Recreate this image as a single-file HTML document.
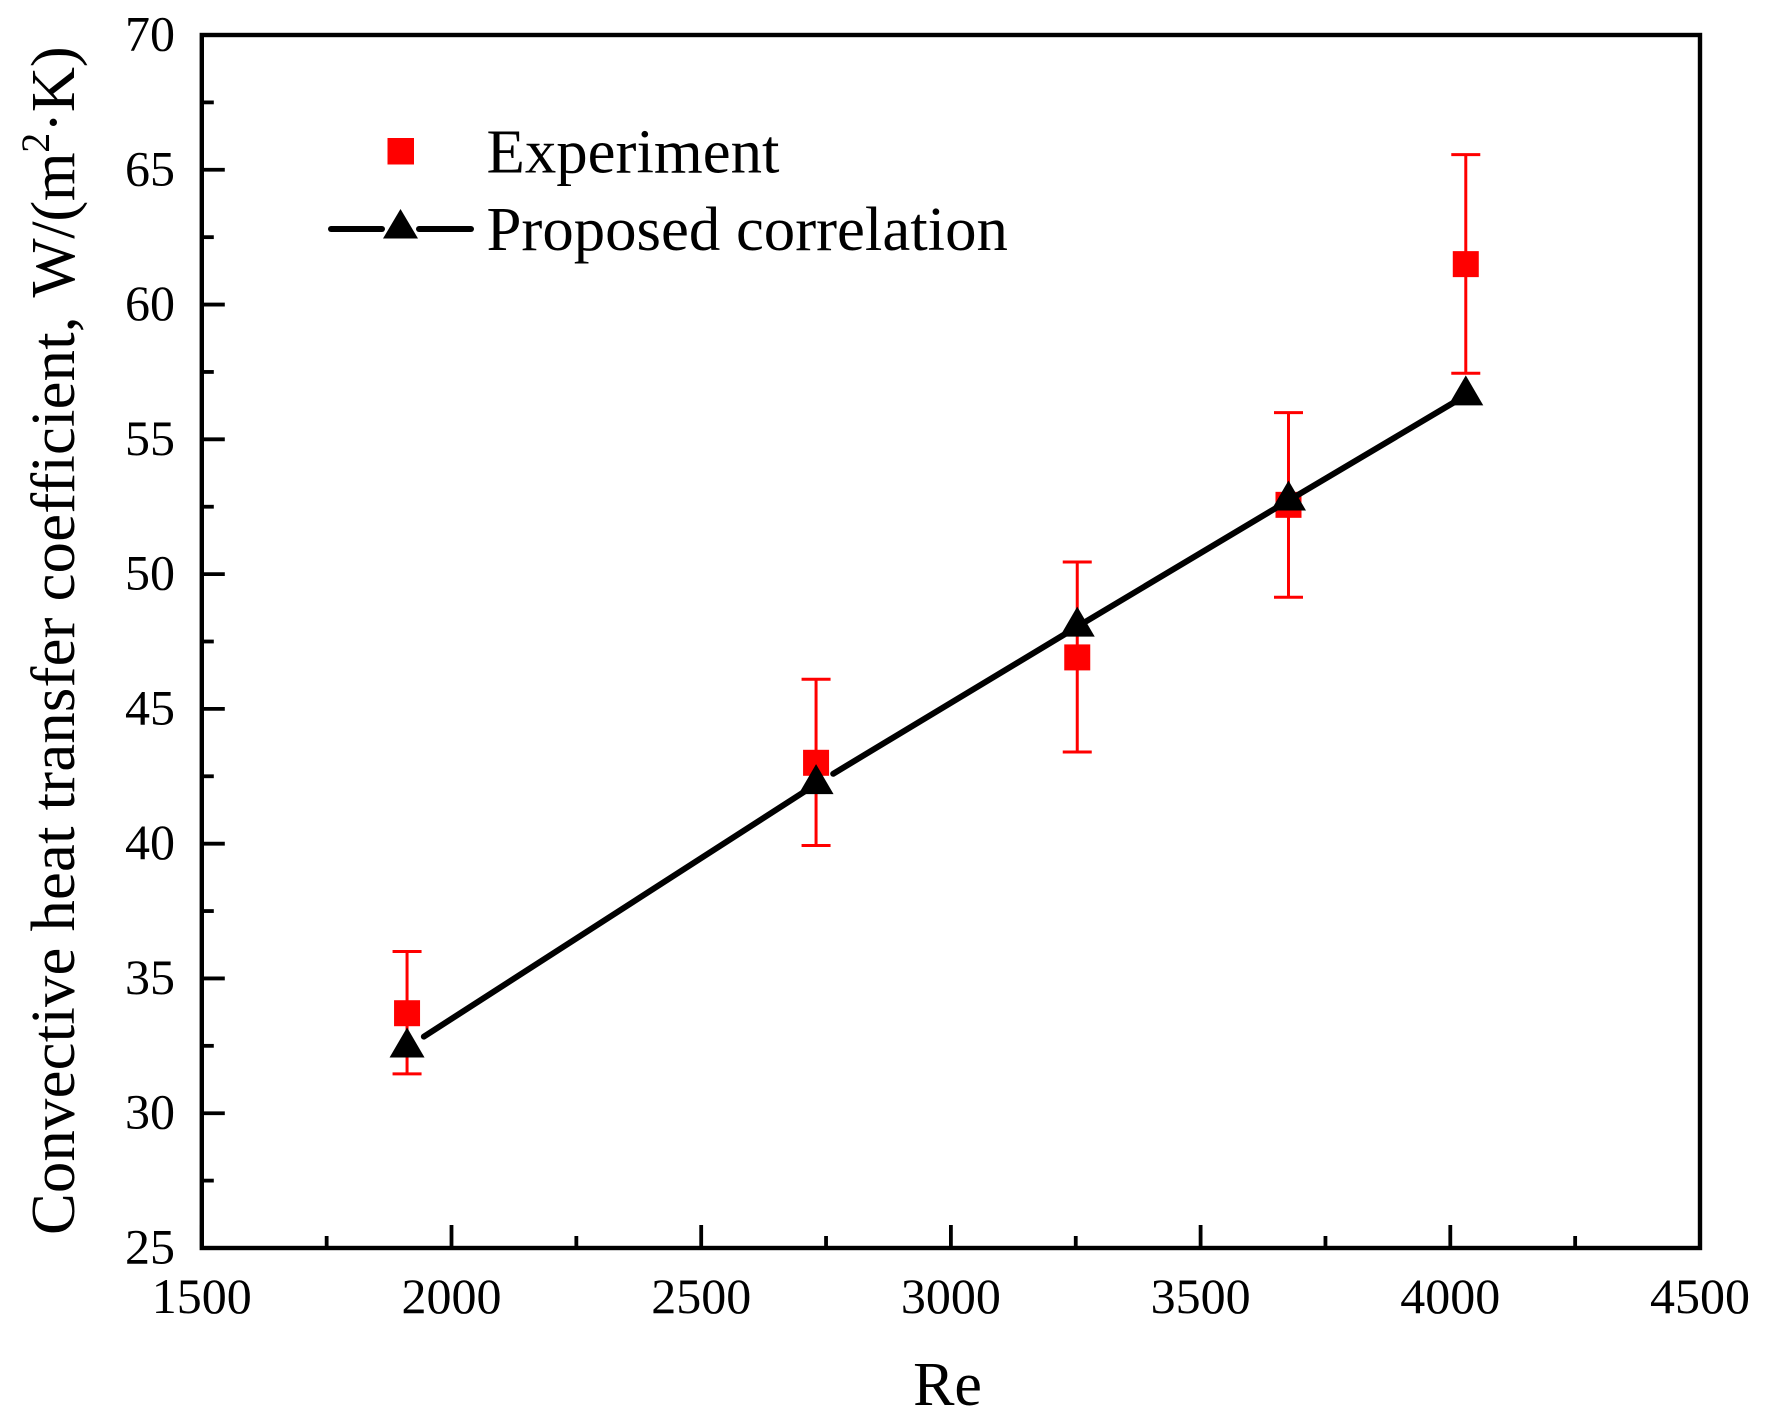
<!DOCTYPE html>
<html lang="en">
<head>
<meta charset="utf-8">
<title>Convective heat transfer coefficient vs Re</title>
<style>
html,body{margin:0;padding:0;background:#fff;}
svg{display:block;}
text{font-family:"Liberation Serif",serif;fill:#000;white-space:pre;}
</style>
</head>
<body>
<svg id="chart" xmlns="http://www.w3.org/2000/svg" width="1768" height="1427" viewBox="0 0 1768 1427">
  <rect x="0" y="0" width="1768" height="1427" fill="#fff"/>
  <g id="marks"></g>
  <g id="axes"></g>
  <text x="947.5" y="1405" font-size="62" text-anchor="middle">Re</text>
  <text transform="translate(74,1235) rotate(-90)" font-size="62.6"><tspan letter-spacing="0.25">Convective heat transfer coefficient,</tspan><tspan dx="4.5" letter-spacing="-0.3"> W/(m</tspan><tspan font-size="40" dy="-25">2</tspan><tspan dy="25" letter-spacing="-0.3">·K)</tspan></text>
  <g>
    <rect x="387.5" y="138" width="26.5" height="26.5" fill="#ff0000"/>
    <text x="486.5" y="172.7" font-size="62.8">Experiment</text>
    <line x1="331" y1="229" x2="382" y2="229" stroke="#000" stroke-width="6" stroke-linecap="round"/>
    <line x1="419" y1="229" x2="471" y2="229" stroke="#000" stroke-width="6" stroke-linecap="round"/>
    <polygon points="400.5,209 418,238.5 383,238.5" fill="#000"/>
    <text x="486.5" y="250" font-size="62.8">Proposed correlation</text>
  </g>
</svg>
<script>
// Chart data
const expRe = [1911, 2730, 3253, 3676, 4031];
const expValues = [33.71, 43.0, 46.91, 52.57, 61.5];
const expUpper = [36.0, 46.1, 50.45, 55.99, 65.56];
const expLower = [31.46, 39.93, 43.4, 49.14, 57.45];
const corrRe = [1911, 2730, 3253, 3676, 4031];
const corrValues = [32.44, 42.21, 48.05, 52.73, 56.63];
const xTickLabels = [1500, 2000, 2500, 3000, 3500, 4000, 4500];
const xMinorTicks = [1750, 2250, 2750, 3250, 3750, 4250];
const yTickLabels = [25, 30, 35, 40, 45, 50, 55, 60, 65, 70];
const yMinorTicks = [27.5, 32.5, 37.5, 42.5, 47.5, 52.5, 57.5, 62.5, 67.5];

const plot = { left: 201.8, right: 1700, top: 35, bottom: 1248 };
const xMin = 1500, xMax = 4500, yMin = 25, yMax = 70;
function sx(v) { return plot.left + (v - xMin) / (xMax - xMin) * (plot.right - plot.left); }
function sy(v) { return plot.bottom - (v - yMin) / (yMax - yMin) * (plot.bottom - plot.top); }

const NS = 'http://www.w3.org/2000/svg';
const marks = document.getElementById('marks');
const axes = document.getElementById('axes');
function make(tag, attrs, parent) {
  const node = document.createElementNS(NS, tag);
  for (const k in attrs) node.setAttribute(k, attrs[k]);
  parent.appendChild(node);
  return node;
}

// Error bars and experimental squares
expRe.forEach(function (re, i) {
  const x = sx(re);
  const stem = make('line', { x1: x, x2: x, y1: sy(expUpper[i]), y2: sy(expLower[i]), stroke: '#ff0000', 'stroke-width': 3 }, marks);
  
  
  const capTop = make('line', { x1: x - 14.5, x2: x + 14.5, y1: sy(expUpper[i]), y2: sy(expUpper[i]), stroke: '#ff0000', 'stroke-width': 3 }, marks);
  
  
  const capBottom = make('line', { x1: x - 14.5, x2: x + 14.5, y1: sy(expLower[i]), y2: sy(expLower[i]), stroke: '#ff0000', 'stroke-width': 3 }, marks);
  
  
  const square = make('rect', { x: x - 13, y: sy(expValues[i]) - 13, width: 26, height: 26, fill: '#ff0000' }, marks);
  
  
});

// Correlation line segments: the first two leave a visible gap after their marker
for (let i = 0; i < corrRe.length - 1; i++) {
  const gapStart = i < 2 ? 20 : 10;
  const gapEnd = 12;
  const x1 = sx(corrRe[i]), y1 = sy(corrValues[i]);
  const x2 = sx(corrRe[i + 1]), y2 = sy(corrValues[i + 1]);
  const len = Math.hypot(x2 - x1, y2 - y1);
  const ux = (x2 - x1) / len, uy = (y2 - y1) / len;
  const seg = make('line', {
    x1: x1 + ux * gapStart, y1: y1 + uy * gapStart,
    x2: x2 - ux * gapEnd, y2: y2 - uy * gapEnd,
    stroke: '#000', 'stroke-width': 6, 'stroke-linecap': 'round'
  }, marks);
  
  
}

// Correlation triangles
corrRe.forEach(function (re, i) {
  const x = sx(re), y = sy(corrValues[i]);
  const tri = make('polygon', {
    points: x + ',' + (y - 20) + ' ' + (x + 17.5) + ',' + (y + 10) + ' ' + (x - 17.5) + ',' + (y + 10),
    fill: '#000'
  }, marks);
  
  
});

// Axis ticks
const majorLen = 23, minorLen = 12;
xTickLabels.forEach(function (v) {
  const x = sx(v);
  const tick = make('line', { x1: x, x2: x, y1: plot.bottom, y2: plot.bottom - majorLen, stroke: '#000', 'stroke-width': 3.8 }, axes);
  
  
  const label = make('text', { x: x, y: 1313, 'font-size': 50, 'text-anchor': 'middle' }, axes);
  label.textContent = v;
  
  
});
xMinorTicks.forEach(function (v) {
  const x = sx(v);
  const tick = make('line', { x1: x, x2: x, y1: plot.bottom, y2: plot.bottom - minorLen, stroke: '#000', 'stroke-width': 3.8 }, axes);
  
  
});
yTickLabels.forEach(function (v) {
  const y = sy(v);
  const tick = make('line', { x1: plot.left, x2: plot.left + majorLen, y1: y, y2: y, stroke: '#000', 'stroke-width': 3.8 }, axes);
  
  
  const label = make('text', { x: 175, y: y + 15.5, 'font-size': 50, 'text-anchor': 'end' }, axes);
  label.textContent = v;
  
  
});
yMinorTicks.forEach(function (v) {
  const y = sy(v);
  const tick = make('line', { x1: plot.left, x2: plot.left + minorLen, y1: y, y2: y, stroke: '#000', 'stroke-width': 3.8 }, axes);
  
  
});

// Plot frame
const frame = make('rect', {
  x: plot.left, y: plot.top,
  width: plot.right - plot.left, height: plot.bottom - plot.top,
  fill: 'none', stroke: '#000', 'stroke-width': 4.4
}, axes);


</script>
</body>
</html>
